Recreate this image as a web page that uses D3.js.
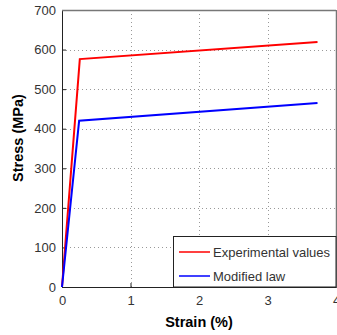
<!DOCTYPE html>
<html>
<head>
<meta charset="utf-8">
<script src="https://cdn.jsdelivr.net/npm/d3@7"></script>
<style>
  html, body { margin: 0; padding: 0; background: #fff; }
  svg { display: block; font-family: "Liberation Sans", Arial, sans-serif; }
</style>
</head>
<body>
<svg id="chart" width="337" height="335"></svg>
<script>
// Stress–strain curves: strain (%) vs stress (MPa)
const expStrain = [0, 0.26, 3.73];
const expStress = [0, 576, 619];
const modStrain = [0, 0.25, 3.73];
const modStress = [0, 420, 465];

const xTicks = [0, 1, 2, 3, 4];
const yTicks = [0, 100, 200, 300, 400, 500, 600, 700];

const seriesNames = ["Experimental values", "Modified law"];
const seriesColors = ["#ff0000", "#0000ff"];

const svg = d3.select("#chart");
const m = { left: 62, top: 10, right: 336, bottom: 287 };

const x = d3.scaleLinear().domain([0, 4]).range([m.left, m.right]);
const y = d3.scaleLinear().domain([0, 700]).range([m.bottom, m.top]);

// dotted grid
const grid = svg.append("g").attr("stroke", "#999").attr("stroke-width", 1)
  .attr("stroke-dasharray", "1,3");
grid.selectAll(".gx").data(xTicks.slice(1, -1)).join("line")
  .attr("x1", d => Math.round(x(d)) + 0.5).attr("x2", d => Math.round(x(d)) + 0.5)
  .attr("y1", m.top).attr("y2", m.bottom);
grid.selectAll(".gy").data(yTicks.slice(1, -1)).join("line")
  .attr("y1", d => Math.round(y(d)) + 0.5).attr("y2", d => Math.round(y(d)) + 0.5)
  .attr("x1", m.left).attr("x2", m.right);

// axes with inward ticks
const xAxis = svg.append("g").attr("transform", `translate(0,${m.bottom})`)
  .call(d3.axisBottom(x).tickValues(xTicks).tickSize(-4).tickPadding(9).tickFormat(d3.format("d")));
const yAxis = svg.append("g").attr("transform", `translate(${m.left},0)`)
  .call(d3.axisLeft(y).tickValues(yTicks).tickSize(-4).tickPadding(6).tickFormat(d3.format("d")));
[xAxis, yAxis].forEach(a => {
  a.select(".domain").attr("stroke", "#222");
  a.selectAll(".tick line").attr("stroke", "#222");
  a.selectAll(".tick text").attr("fill", "#333").attr("font-size", 13)
    .attr("font-family", "Liberation Sans, Arial, sans-serif");
});

// top and right frame
svg.append("line").attr("x1", m.left).attr("x2", m.right).attr("y1", m.top + 0.5).attr("y2", m.top + 0.5)
  .attr("stroke", "#777").attr("stroke-width", 1.5);
svg.append("line").attr("x1", m.right + 0.5).attr("x2", m.right + 0.5).attr("y1", m.top).attr("y2", m.bottom)
  .attr("stroke", "#777").attr("stroke-width", 1.5);

// curves
const line = d3.line().x(d => x(d[0])).y(d => y(d[1]));
const series = [
  d3.zip(expStrain, expStress),
  d3.zip(modStrain, modStress)
];
svg.append("g").selectAll("path").data(series).join("path")
  .attr("d", line)
  .attr("fill", "none")
  .attr("stroke", (d, i) => seriesColors[i])
  .attr("stroke-width", 2);

// legend
const lg = svg.append("g");
lg.append("rect").attr("x", 173.5).attr("y", 236.5).attr("width", m.right - 173.5).attr("height", m.bottom - 236.5)
  .attr("fill", "#fff").attr("stroke", "#222").attr("stroke-width", 1);
seriesNames.forEach((name, i) => {
  const yy = 252 + i * 24;
  lg.append("line").attr("x1", 179).attr("x2", 210).attr("y1", yy).attr("y2", yy)
    .attr("stroke", seriesColors[i]).attr("stroke-width", 1.5);
  lg.append("text").attr("x", 213).attr("y", yy + 5).attr("font-size", 13).attr("fill", "#333")
    .text(name);
});

// axis labels
svg.append("text").attr("x", 199).attr("y", 327).attr("text-anchor", "middle")
  .attr("font-size", 14.5).attr("font-weight", "bold").text("Strain (%)");
svg.append("text").attr("transform", "translate(23,138) rotate(-90)").attr("text-anchor", "middle")
  .attr("font-size", 14.5).attr("font-weight", "bold").text("Stress (MPa)");
</script>
</body>
</html>
